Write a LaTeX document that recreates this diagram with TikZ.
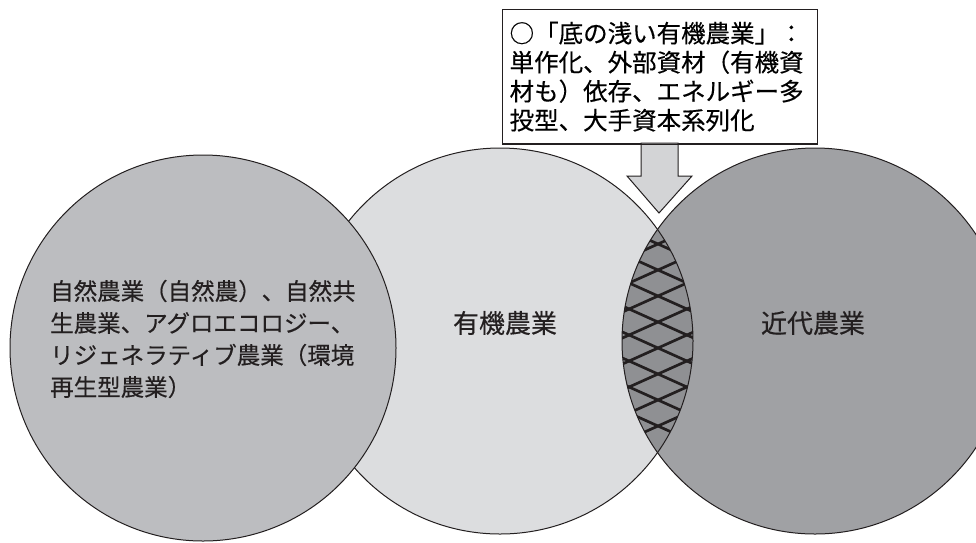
\documentclass[tikz,border=0pt]{standalone}
\usepackage{fontspec}
\newfontfamily\jpfont[FakeBold=0.35]{Noto Sans CJK JP}
\definecolor{leftgrey}{RGB}{188,189,192}
\definecolor{midgrey}{RGB}{220,221,223}
\definecolor{rightgrey}{RGB}{160,161,164}
\definecolor{lensgrey}{RGB}{143,144,147}
\definecolor{arrowgrey}{RGB}{211,212,214}
\definecolor{inkline}{RGB}{35,31,32}
\tikzset{
  outline/.style={draw=inkline, line width=1pt},
  hatchline/.style={draw=inkline, line width=2.7pt},
  notebox/.style={draw=inkline, line width=1.3pt, fill=white, rectangle, anchor=north west,
     minimum width=315pt, minimum height=134pt, text width=301pt, inner xsep=7pt, align=left,
     font=\jpfont\fontsize{24.5}{29}\selectfont},
  bigarrow/.style={draw=inkline, line width=1pt, fill=arrowgrey},
  circlabel/.style={inkline, font=\jpfont\fontsize{26}{30}\selectfont},
  sidelabel/.style={inkline, align=left, anchor=west, inner sep=0pt, font=\jpfont\fontsize{23.5}{32}\selectfont}
}
\begin{document}
\begin{tikzpicture}[x=1pt,y=-1pt]
\useasboundingbox (0,0) rectangle (976,542);
\clip (0,0) rectangle (976,542);
\coordinate (cL) at (203,348);
\coordinate (cM) at (500,341);
\coordinate (cR) at (815,341);
% middle and right circles
\fill[midgrey] (cM) circle[radius=193pt];
\fill[rightgrey] (cR) circle[radius=193pt];
% lens
\begin{scope}
  \clip (cM) circle[radius=193pt];
  \fill[lensgrey] (cR) circle[radius=193pt];
  \clip (cR) circle[radius=193pt];
  \foreach \k in {-4,...,3}{
    \draw[hatchline] (600,{348+26*\k-26.1}) -- (716,{348+26*\k+26.1});
    \draw[hatchline] (600,{348+26*\k+26.1}) -- (716,{348+26*\k-26.1});
  }
\end{scope}
\draw[outline] (cM) circle[radius=193pt];
\draw[outline] (cR) circle[radius=193pt];
% left circle on top
\filldraw[fill=leftgrey, outline] (cL) circle[radius=193pt];
% labels
\node[sidelabel] (ltext) at (50,339) {自然農業（自然農）、自然共\\生農業、アグロエコロジー、\\リジェネラティブ農業（環境\\再生型農業）};
\node[circlabel] (mtext) at (505,323) {有機農業};
\node[circlabel] (rtext) at (813,323) {近代農業};
% note box and arrow
\node[notebox] (box) at (502,9) {○「底の浅い有機農業」：\\単作化、外部資材（有機資\\材も）依存、エネルギー多\\投型、大手資本系列化};
\draw[bigarrow] (641,143) -- (641,176) -- (627,176) -- (659,213) -- (692,176) -- (678,176) -- (678,143) -- cycle;
\draw[inkline, line width=1.3pt] (box.south west) -- (box.south east);
\end{tikzpicture}
\end{document}
